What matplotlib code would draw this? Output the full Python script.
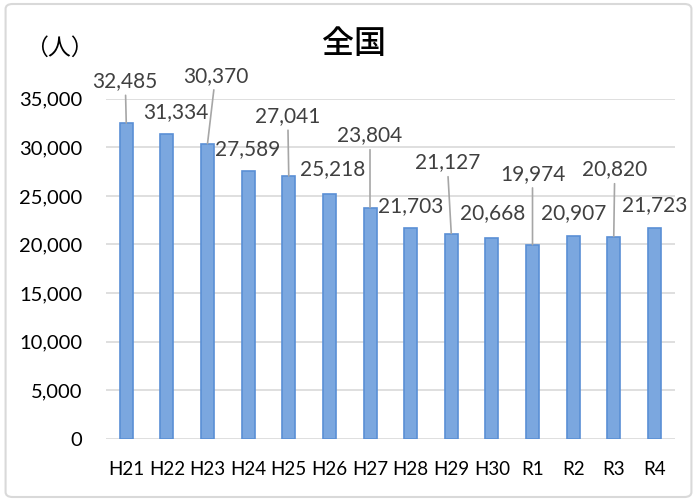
import matplotlib
matplotlib.use('Agg')
import matplotlib.pyplot as plt
from matplotlib.patches import FancyBboxPatch

# data
years = ['H21', 'H22', 'H23', 'H24', 'H25', 'H26', 'H27',
         'H28', 'H29', 'H30', 'R1', 'R2', 'R3', 'R4']
people = [32485, 31334, 30370, 27589, 27041, 25218, 23804,
          21703, 21127, 20668, 19974, 20907, 20820, 21723]

# label offsets (pixels) from bar top, and whether a leader line is drawn
label_dx = [-1, 9, 8, -1, -1, 3, 0, 0, -4, 1, 0, 1, 1, 0]
label_dy = [42, 22, 68, 22, 60, 25, 72, 22, 71, 25, 71, 23, 67, 23]
leader = [True, False, True, False, True, False, True,
          False, True, False, True, False, True, False]

plt.rcParams['font.family'] = ['Lato', 'Noto Sans CJK JP', 'DejaVu Sans']

fig = plt.figure(figsize=(6.97, 5.01), dpi=100)
ax = fig.add_axes([0.152, 0.124, 0.816, 0.679])

x = range(len(years))
ax.bar(x, people, width=0.32, color='#7BA7DF', edgecolor='#5A8FD5', linewidth=1.2, zorder=3)

for i, v in enumerate(people):
    props = dict(arrowstyle='-', color='#a6a6a6', lw=1.2, shrinkA=1, shrinkB=0) if leader[i] else None
    ax.annotate(f'{v:,}', xy=(i, v), xytext=(label_dx[i], label_dy[i]),
                textcoords='offset pixels', ha='center', va='center',
                fontsize=15, color='#404040', arrowprops=props, zorder=4)

ax.set_xlim(-0.5, len(years) - 0.5)
ax.set_ylim(0, 35000)
ax.set_yticks(range(0, 35001, 5000))
ax.set_yticklabels([f'{t:,}' for t in range(0, 35001, 5000)])
ax.set_xticks(list(x))
ax.set_xticklabels(years)
ax.tick_params(axis='both', length=0, colors='black')
ax.tick_params(axis='x', pad=16, labelsize=13.5)
ax.tick_params(axis='y', pad=17, labelsize=14.5)
ax.grid(axis='y', color='#d9d9d9', lw=1.2, zorder=0)
for s in ax.spines.values():
    s.set_visible(False)

fig.text(0.508, 0.913, '全国', ha='center', va='center', fontsize=23,
         fontweight='medium', family=['Noto Sans CJK JP'])
fig.text(0.085, 0.904, '（人）', ha='center', va='center', fontsize=16.5,
         family=['Noto Sans CJK JP'])

# light border around the chart
fig.patches.append(FancyBboxPatch((0.008, 0.008), 0.984, 0.984,
                                  boxstyle='round,pad=0,rounding_size=0.01',
                                  transform=fig.transFigure, fill=False,
                                  edgecolor='#d9d9d9', lw=1.5))

fig.savefig('out.png', dpi=100)
